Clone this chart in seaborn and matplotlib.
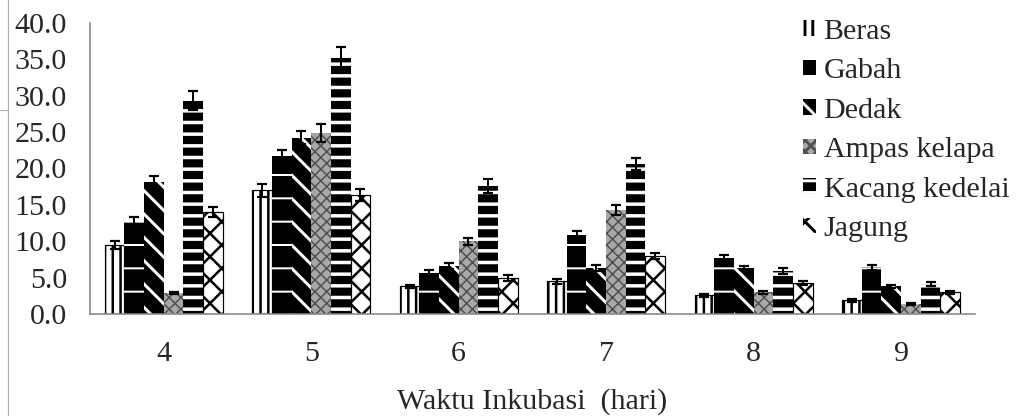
import numpy as np
import pandas as pd
import matplotlib
matplotlib.use('Agg')
from matplotlib import pyplot as plt
from matplotlib.patches import Patch
from matplotlib.lines import Line2D
import seaborn as sns

# data
hari = ['4', '5', '6', '7', '8', '9']
pakan = ['Beras', 'Gabah', 'Dedak', 'Ampas kelapa', 'Kacang kedelai', 'Jagung']
beras = [9.5, 17.0, 3.8, 4.5, 2.6, 1.9]
gabah = [12.7, 21.7, 5.7, 10.8, 7.7, 6.4]
dedak = [18.1, 24.2, 6.6, 6.3, 6.3, 3.8]
ampas = [2.9, 24.9, 10.0, 14.3, 3.0, 1.4]
kacang = [29.3, 35.2, 17.6, 20.6, 5.9, 4.1]
jagung = [14.0, 16.4, 4.9, 8.0, 4.3, 3.0]

err_beras = [0.5, 0.9, 0.2, 0.3, 0.2, 0.2]
err_gabah = [0.6, 0.8, 0.3, 0.6, 0.4, 0.3]
err_dedak = [0.8, 0.9, 0.4, 0.4, 0.3, 0.2]
err_ampas = [0.2, 1.2, 0.5, 0.7, 0.2, 0.1]
err_kacang = [1.3, 1.5, 0.9, 0.8, 0.4, 0.3]
err_jagung = [0.7, 0.8, 0.4, 0.4, 0.3, 0.2]

series = [beras, gabah, dedak, ampas, kacang, jagung]
errors = [err_beras, err_gabah, err_dedak, err_ampas, err_kacang, err_jagung]

df = pd.DataFrame({
    'hari': hari * len(pakan),
    'pakan': np.repeat(pakan, len(hari)),
    'nilai': np.concatenate(series),
})

DPI = 140
px = 72 / DPI  # points per pixel

sns.set_style('white')
plt.rcParams['font.family'] = ['Liberation Serif', 'DejaVu Serif']
plt.rcParams['hatch.linewidth'] = 1.5

# face colour, hatch colour, hatch pattern, hatch width (px) per series
styles = [
    ('white', 'black', '|||', 2.5),
    ('black', 'white', '-', 2.0),
    ('black', 'white', '\\\\', 3.0),
    ('#a8a8a8', '#505050', 'xxxx', 1.5),
    ('black', 'white', '--', 3.5),
    ('white', 'black', 'xx', 2.5),
]

fs = 30 * px

fig = plt.figure(figsize=(1017 / DPI, 416 / DPI), dpi=DPI)
ax = fig.add_axes([0.0885, 0.245, 0.870, 0.70])

sns.barplot(data=df, x='hari', y='nilai', hue='pakan', hue_order=pakan,
            order=hari, width=0.8, errorbar=None, ax=ax, legend=False)

def style_patch(p, fc, hc, hatch, hw):
    p.set_facecolor(fc)
    p.set_edgecolor(hc)
    p.set_hatch(hatch)
    p.set_linewidth(1.2 * px if fc == 'white' else 0)
    if hasattr(p, 'set_hatch_linewidth'):
        p.set_hatch_linewidth(hw * px)

for cont, (fc, hc, hatch, hw), err in zip(ax.containers, styles, errors):
    xs, hs = [], []
    for bar in cont:
        style_patch(bar, fc, hc, hatch, hw)
        xs.append(bar.get_x() + bar.get_width() / 2)
        hs.append(bar.get_height())
    ax.errorbar(xs, hs, yerr=err, fmt='none', ecolor='black',
                elinewidth=2 * px, capsize=5.3 * px, capthick=2.2 * px, zorder=5)

ax.set_ylim(0, 40)
ax.set_xlim(-0.5, 5.5)
ax.set_yticks(np.arange(0, 41, 5))
ax.set_yticklabels([f'{v:.1f}' for v in np.arange(0, 41, 5)], fontsize=fs)
ax.set_xticks(np.arange(-0.5, 6, 1))
ax.set_xticklabels([])
ax.set_xticks(range(len(hari)), minor=True)
ax.set_xticklabels(hari, minor=True, fontsize=fs)
ax.tick_params(axis='x', which='minor', length=0, pad=27 * px)
ax.tick_params(axis='x', which='major', length=6 * px, width=1.5 * px,
               color='#888888', direction='out')
ax.tick_params(axis='y', length=8 * px, width=1.5 * px, color='#888888',
               direction='out', pad=15 * px)
ax.set_xlabel('Waktu Inkubasi  (hari)', fontsize=fs, labelpad=21 * px)
ax.set_ylabel('')

sns.despine(ax=ax)
for s in ['left', 'bottom']:
    ax.spines[s].set_color('#888888')
    ax.spines[s].set_linewidth(1.6 * px)

handles = []
for (fc, hc, h, hw), lab in zip(styles, pakan):
    hp = Patch(label=lab)
    style_patch(hp, fc, hc, h, hw)
    hp.set_linewidth(0)
    handles.append(hp)
fig.legend(handles=handles, loc='upper left', bbox_to_anchor=(0.790, 0.955),
           frameon=False, fontsize=fs, handlelength=0.42, handleheight=0.42,
           handletextpad=0.25, labelspacing=0.45, borderpad=0, borderaxespad=0)

# screenshot border on the left edge
fig.add_artist(Line2D([0.008, 0.008], [0, 1], color='#b0b0b0', lw=1.2 * px))
fig.add_artist(Line2D([0, 0.008], [0.735, 0.735], color='#b0b0b0', lw=1.2 * px))

fig.savefig('out.png', dpi=DPI)
